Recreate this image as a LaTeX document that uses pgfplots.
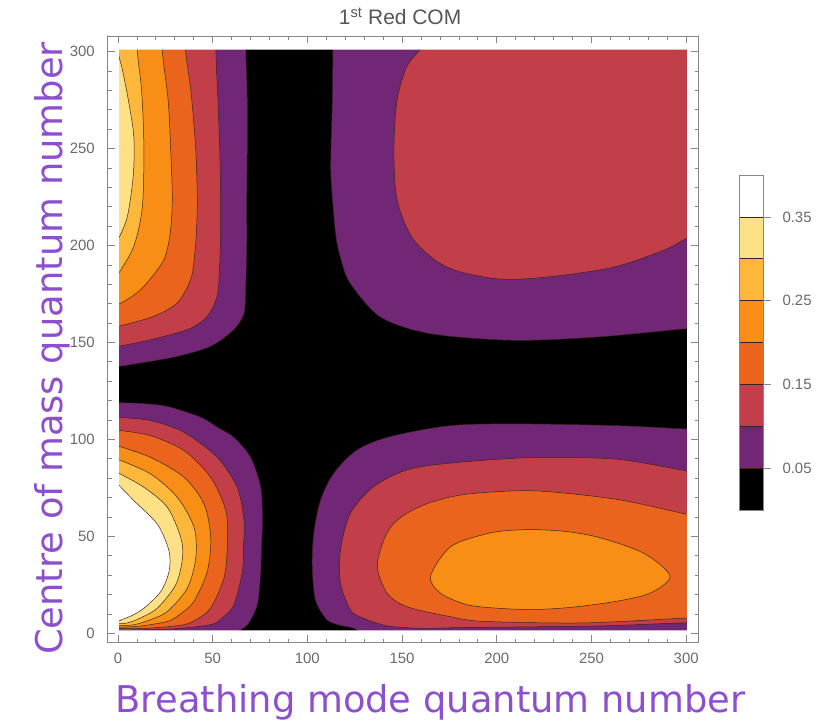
\documentclass[border=0pt]{standalone}
\usepackage{fontspec}
\setmainfont{Liberation Sans}
\newfontfamily\labelfont{DejaVu Sans}
\usepackage{pgfplots}
\pgfplotsset{compat=1.18}
\definecolor{cpurple}{RGB}{113,39,117}
\definecolor{cred}{RGB}{194,63,73}
\definecolor{cdkor}{RGB}{234,100,30}
\definecolor{corange}{RGB}{249,142,22}
\definecolor{cltor}{RGB}{253,184,59}
\definecolor{cyellow}{RGB}{254,224,133}
\definecolor{clabel}{RGB}{140,80,207}
\definecolor{cframe}{RGB}{135,135,135}
\definecolor{ctick}{RGB}{105,105,105}
\definecolor{ctitle}{RGB}{85,85,85}
\definecolor{cline}{RGB}{60,35,30}
\pgfplotsset{
  band/.style={draw=cline, line width=0.5bp, smooth, tension=0.5, fill=#1},
}
\begin{document}
\begin{tikzpicture}
\useasboundingbox (-107.5bp,-78.3bp) rectangle (711.5bp,642.7bp);
\begin{axis}[
  at={(0,0)}, anchor=south west,
  scale only axis, width=591bp, height=606.7bp,
  xmin=-5.5, xmax=306.5, ymin=-4.8, ymax=308,
  axis on top,
  xtick={0,50,...,300}, ytick={0,50,...,300},
  minor x tick num=4, minor y tick num=4,
  tick align=inside,
  major tick length=7.5bp, minor tick length=4bp,
  axis line style={cframe, line width=0.8bp},
  tick style={cframe, line width=0.7bp},
  /pgf/number format/assume math mode=true,
  tick label style={font=\fontsize{15}{18}\selectfont, text=ctick},
  xticklabel style={anchor=north, inner sep=0pt, yshift=-10.3bp},
  yticklabel style={anchor=east, inner sep=0pt, xshift=-12.5bp},
  title={1\textsuperscript{st} Red COM},
  title style={at={(axis description cs:0.495,1)}, anchor=base, yshift=5.3bp, inner sep=0pt, font=\fontsize{21}{25}\selectfont, text=ctitle},
  xlabel={Breathing mode quantum number},
  ylabel={Centre of mass quantum number},
  xlabel style={at={(axis description cs:0.5466,-0.098)}, anchor=center, inner sep=0pt, font=\labelfont\fontsize{37}{44}\selectfont, text=clabel},
  ylabel style={at={(axis description cs:-0.094,0.485)}, anchor=center, inner sep=0pt, font=\labelfont\fontsize{37}{44}\selectfont, text=clabel},
]
% background (value < 0.05)
\addplot[fill=black, draw=none] coordinates {(-30,-30) (330,-30) (330,330) (-30,330)} --cycle;
% ---- 0.05 contour (purple) ----
\addplot[band=cpurple] coordinates {(-20,330) (67.3,330) (67.5,301) (68.3,275) (68.3,250) (68,225) (68,200) (67.5,180) (66.6,165.2) (61.2,156.6) (48.9,148) (31.3,142.8) (12,139.4) (0,137.6) (-10,136.8) (-20,136)} --cycle;
\addplot[band=cpurple] coordinates {(-20,119.5) (-8,119.3) (0,119) (13,118.5) (26.2,117) (43.8,111.4) (53,106) (61.3,101) (70.1,90.7) (75.4,75.2) (76.3,57.9) (75.8,45) (75.4,32) (73.6,14.8) (68.4,4.5) (62,0) (55,-8) (-20,-8)} --cycle;
\addplot[band=cpurple] coordinates {(113.7,330) (113.5,301) (113.2,275.3) (112.5,250) (112.5,235) (114.9,206.2) (118,192) (122.8,180.3) (138.6,163.1) (165,154.5) (208.9,151.1) (252.9,152.8) (300.5,157.1) (320,158) (320,330)} --cycle;
\addplot[band=cpurple] coordinates {(130,-8) (126.3,1.7) (118,4) (110.5,6.9) (104.3,17.2) (102.6,34.4) (103.4,51.6) (107,68.8) (114,82.6) (126.3,94.6) (143.9,101.5) (175.6,107.1) (210.7,108) (263.4,107.1) (300.5,105.4) (320,105) (320,-8)} --cycle;
% ---- 0.10 contour (red) ----
\addplot[band=cred] coordinates {(-20,330) (51.5,330) (51.7,301) (53,270) (54,240) (54.2,208) (53.5,185) (52.4,174) (49.5,167) (45.4,161.7) (36.6,156.6) (17.3,151.4) (0,148) (-10,147) (-20,146.5)} --cycle;
\addplot[band=cred] coordinates {(-20,112.5) (-8,112) (0,111.4) (17.4,109.7) (35,103.6) (52.5,90.7) (63,75.2) (66.6,57.9) (66.3,45) (65.7,32) (61.3,14.8) (55,8) (49,4.5) (30,2.4) (10,1.8) (0,1.7) (-20,1.7)} --cycle;
\addplot[band=cred] coordinates {(180,330) (167,310) (159.7,301) (152.7,292.6) (147.4,275.2) (145.7,249.4) (147.4,223.5) (156.2,202.8) (173.8,188.8) (200.2,182.8) (226.5,183.7) (261.6,188.8) (288,197.5) (300.5,203.8) (320,214) (320,330)} --cycle;
\addplot[band=cred] coordinates {(320,5.5) (300.5,5.5) (260,4) (220,3.4) (180,3) (161.5,2.6) (145,3.5) (136.9,5.2) (128,8.5) (122.8,12) (117.5,25.8) (117.5,43) (122.8,62) (135.1,75.7) (152.7,84.3) (175.5,87.8) (219.5,90.7) (263.4,89.8) (300.5,83.8) (320,82)} --cycle;
% ---- 0.15 contour (dark orange) ----
\addplot[band=cdkor] coordinates {(-20,330) (35.2,330) (35.7,301) (38.5,280) (41,251) (41.9,225) (41.5,208) (40.5,195) (38.4,182.4) (31.3,170.4) (19,163.5) (0,158.3) (-10,157) (-20,156.5)} --cycle;
\addplot[band=cdkor] coordinates {(-20,107) (-8,106.1) (0,104.8) (17.4,101.9) (35,94.2) (49,80.4) (57,63.1) (57.8,45.9) (56,28.6) (49,13.1) (42,7.5) (35,4.5) (18,2.8) (0,2.4) (-20,2.4)} --cycle;
\addplot[band=cdkor] coordinates {(320,8) (300.5,7.9) (245.8,5.4) (193.1,6.2) (175.5,8.6) (152.7,13.7) (142.2,20.6) (136.9,34.4) (140.4,48.2) (145,56) (152.7,62) (165,67.5) (184.3,71.8) (219.5,73.5) (263.4,69.1) (300.5,61.4) (320,58)} --cycle;
% ---- 0.20 contour (orange) ----
\addplot[band=corange] coordinates {(-20,330) (22.8,330) (23.4,301) (26.5,275) (27.8,251) (28.7,225) (28,210) (26.5,200) (23.4,191) (12,177.2) (0,169.5) (-10,167) (-20,166)} --cycle;
\addplot[band=corange] coordinates {(-20,101.5) (-8,99.5) (0,96.7) (17.4,90.7) (35,80.4) (45.5,66.6) (49,49.3) (47.2,32) (40.2,16.6) (33,10) (26.2,6.2) (12,3.8) (0,3.2) (-20,3.2)} --cycle;
\addplot[band=corange] coordinates {(219.5,53.6) (237,52.5) (254.6,49.3) (277.6,41.3) (291.5,29.5) (280.8,20.7) (263.4,16.6) (240,13.5) (219.5,12.3) (200,13) (184.3,14.8) (170.3,20.7) (165,29.5) (175.6,44.7) (193.1,51) (205,53) (219.5,53.6)} --cycle;
% ---- 0.25 contour (light orange) ----
\addplot[band=cltor] coordinates {(-20,330) (9.8,330) (10.2,301) (12.5,280) (13.7,251) (12.9,220) (8.4,199.6) (0,185) (-6,176) (-20,170)} --cycle;
\addplot[band=cltor] coordinates {(-20,96) (-8,93.3) (0,89.8) (17.4,82.1) (31.4,70.1) (40.2,54.6) (41.1,39) (36.7,23.4) (26.2,11.4) (17,7) (8.6,4.5) (0,4) (-20,4)} --cycle;
% ---- 0.30 contour (pale yellow) ----
\addplot[band=cyellow] coordinates {(-20,330) (-3,330) (0,301) (2.5,290) (5.5,275) (8,260) (8.6,250) (8,235) (5,215) (0,203) (-6,195) (-20,190)} --cycle;
\addplot[band=cyellow] coordinates {(-20,90) (-8,87.3) (0,82.9) (13.9,75.2) (26.2,64.9) (33.2,49.3) (34.1,39) (30.6,25.2) (20.9,13.1) (12,8) (5.1,5.4) (0,5) (-20,5)} --cycle;
% ---- 0.35 contour (white) ----
\addplot[band=white] coordinates {(-20,90) (-6,82.9) (0,76.9) (8.6,68.3) (20.9,56.2) (27,42.4) (27,32) (22.7,21.7) (13.9,13.1) (7,9) (1.6,7) (0,6.6) (-20,6.6)} --cycle;
% padding outside the data region
\addplot[fill=white, draw=none, even odd rule] coordinates {(-30,-30) (330,-30) (330,330) (-30,330) (-30,-30) (0.5,1.5) (300.5,1.5) (300.5,301) (0.5,301) (0.5,1.5) (-30,-30)} --cycle;
\end{axis}
\begin{axis}[
  at={(631.5bp,132.7bp)}, anchor=south west,
  scale only axis, width=24.3bp, height=335bp,
  xmin=0, xmax=1, ymin=0, ymax=0.4,
  xtick=\empty,
  ytick={0.05,0.15,0.25,0.35}, yticklabels={0.05,0.15,0.25,0.35},
  ytick pos=right, tick align=outside, major tick length=8bp,
  axis on top,
  axis line style={cframe, line width=0.8bp},
  tick style={cframe, line width=0.7bp},
  yticklabel style={font=\fontsize{15}{18}\selectfont, text=ctick, anchor=west, inner sep=0pt, xshift=11bp},
]
\addplot[fill=black, draw=none] coordinates {(0,0) (1,0) (1,0.05) (0,0.05)} --cycle;
\addplot[fill=cpurple, draw=cline, line width=0.5bp] coordinates {(0,0.05) (1,0.05) (1,0.10) (0,0.10)} --cycle;
\addplot[fill=cred, draw=cline, line width=0.5bp] coordinates {(0,0.10) (1,0.10) (1,0.15) (0,0.15)} --cycle;
\addplot[fill=cdkor, draw=cline, line width=0.5bp] coordinates {(0,0.15) (1,0.15) (1,0.20) (0,0.20)} --cycle;
\addplot[fill=corange, draw=cline, line width=0.5bp] coordinates {(0,0.20) (1,0.20) (1,0.25) (0,0.25)} --cycle;
\addplot[fill=cltor, draw=cline, line width=0.5bp] coordinates {(0,0.25) (1,0.25) (1,0.30) (0,0.30)} --cycle;
\addplot[fill=cyellow, draw=cline, line width=0.5bp] coordinates {(0,0.30) (1,0.30) (1,0.35) (0,0.35)} --cycle;
\addplot[fill=white, draw=none] coordinates {(0,0.35) (1,0.35) (1,0.40) (0,0.40)} --cycle;
\end{axis}
\end{tikzpicture}
\end{document}
